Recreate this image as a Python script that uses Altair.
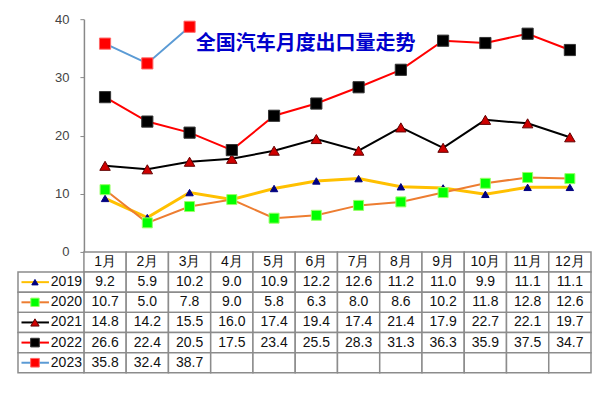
import altair as alt
import pandas as pd

months = ["1月", "2月", "3月", "4月", "5月", "6月", "7月", "8月", "9月", "10月", "11月", "12月"]
years = ["2019", "2020", "2021", "2022", "2023"]
v2019 = [9.2, 5.9, 10.2, 9.0, 10.9, 12.2, 12.6, 11.2, 11.0, 9.9, 11.1, 11.1]
v2020 = [10.7, 5.0, 7.8, 9.0, 5.8, 6.3, 8.0, 8.6, 10.2, 11.8, 12.8, 12.6]
v2021 = [14.8, 14.2, 15.5, 16.0, 17.4, 19.4, 17.4, 21.4, 17.9, 22.7, 22.1, 19.7]
v2022 = [26.6, 22.4, 20.5, 17.5, 23.4, 25.5, 28.3, 31.3, 36.3, 35.9, 37.5, 34.7]
v2023 = [35.8, 32.4, 38.7]
title_text = "全国汽车月度出口量走势"

series = {"2019": v2019, "2020": v2020, "2021": v2021, "2022": v2022, "2023": v2023}

COL = 42.3
LEG = 66.0
PLOT_W = LEG + 12 * COL
XMIN = -LEG / COL
TOP_H = 233
TAB_H = 121
FONT = "Liberation Sans"

styles = {
    "2019": dict(line="#FFC000", width=3, shape="triangle-up", fill="#000080", stroke="#000080", size=55, lsize=40),
    "2020": dict(line="#ED7D31", width=2, shape="square", fill="#00FF00", stroke="#99FF66", size=100, lsize=70),
    "2021": dict(line="#000000", width=2, shape="triangle-up", fill="#D00000", stroke="#600000", size=110, lsize=70),
    "2022": dict(line="#FF0000", width=2, shape="square", fill="#000000", stroke="#333333", size=125, lsize=75),
    "2023": dict(line="#5B9BD5", width=2, shape="square", fill="#FF0000", stroke="#FF6666", size=125, lsize=75),
}

rows = []
for yr in years:
    for i, v in enumerate(series[yr]):
        rows.append(dict(year=yr, month=months[i], pos=i + 0.5, value=v))
df = pd.DataFrame(rows)

xscale = alt.Scale(domain=[XMIN, 12], nice=False, zero=False)
yscale = alt.Scale(domain=[0, 40], nice=False)
yaxis = alt.Axis(values=[0, 10, 20, 30, 40], offset=-LEG, grid=False, domainColor="#888888",
                 domainWidth=1.5, tickColor="#888888", tickSize=4, labelFont=FONT,
                 labelFontSize=13, labelColor="#444444", labelPadding=11, title=None)

layers = []
for yr in years:
    s = styles[yr]
    d = df[df.year == yr]
    base = alt.Chart(d).encode(
        x=alt.X("pos:Q", scale=xscale, axis=None),
        y=alt.Y("value:Q", scale=yscale, axis=yaxis),
    )
    layers.append(base.mark_line(color=s["line"], strokeWidth=s["width"]))
for yr in years:
    s = styles[yr]
    d = df[df.year == yr]
    base = alt.Chart(d).encode(
        x=alt.X("pos:Q", scale=xscale, axis=None),
        y=alt.Y("value:Q", scale=yscale, axis=yaxis),
    )
    layers.append(base.mark_point(shape=s["shape"], filled=True, fill=s["fill"], stroke=s["stroke"],
                                  strokeWidth=1, size=s["size"], opacity=1))

top = alt.layer(*layers).properties(
    width=PLOT_W, height=TOP_H,
    title=alt.TitleParams(title_text, anchor="start", frame="group", dx=178, offset=-51,
                          baseline="middle", font="Noto Sans CJK SC", fontSize=20,
                          fontWeight="bold", color="#0000CC"),
)

# table
row_names = ["hdr"] + years
cells = []
for r in row_names:
    for i in range(12):
        cells.append(dict(row=r, x0=i, x1=i + 1))
for yr in years:
    cells.append(dict(row=yr, x0=XMIN, x1=0))
cells_df = pd.DataFrame(cells)

texts = []
for i, m in enumerate(months):
    texts.append(dict(row="hdr", pos=i + 0.5, label=m))
for yr in years:
    for i, v in enumerate(series[yr]):
        texts.append(dict(row=yr, pos=i + 0.5, label=f"{v:.1f}"))
texts_df = pd.DataFrame(texts)

tx = alt.Scale(domain=[XMIN, 12], nice=False, zero=False)
ty = alt.Scale(domain=row_names, paddingInner=0, paddingOuter=0)

rects = alt.Chart(cells_df).mark_rect(fill="white", stroke="#8C8C8C", strokeWidth=1.5).encode(
    x=alt.X("x0:Q", scale=tx, axis=None), x2="x1:Q",
    y=alt.Y("row:N", scale=ty, axis=None),
)
vals = alt.Chart(texts_df).mark_text(font=FONT, fontSize=14, color="#111111").encode(
    x=alt.X("pos:Q", scale=tx, axis=None),
    y=alt.Y("row:N", scale=ty, axis=None),
    text="label:N",
)
year_df = pd.DataFrame({"row": years, "label": years})
year_txt = alt.Chart(year_df).mark_text(font=FONT, fontSize=14, color="#111111", align="right").encode(
    x=alt.value(LEG - 2),
    y=alt.Y("row:N", scale=ty, axis=None),
    text="label:N",
)
tab_layers = [rects, vals, year_txt]
for yr in years:
    s = styles[yr]
    d = pd.DataFrame({"row": [yr]})
    tab_layers.append(alt.Chart(d).mark_rule(color=s["line"], strokeWidth=2).encode(
        x=alt.value(3.5), x2=alt.value(31), y=alt.Y("row:N", scale=ty, axis=None)))
    tab_layers.append(alt.Chart(d).mark_point(shape=s["shape"], filled=True, fill=s["fill"],
                                              stroke=s["stroke"], strokeWidth=1, size=s["lsize"],
                                              opacity=1).encode(
        x=alt.value(17), y=alt.Y("row:N", scale=ty, axis=None)))

table = alt.layer(*tab_layers).properties(width=PLOT_W, height=TAB_H)

chart = alt.vconcat(top, table, spacing=0, bounds="flush").properties(
    padding={"left": 9, "top": 5, "right": 0, "bottom": 0}
).configure_view(stroke=None)

chart.save("out.html", embed_options={"renderer": "svg", "actions": False})
